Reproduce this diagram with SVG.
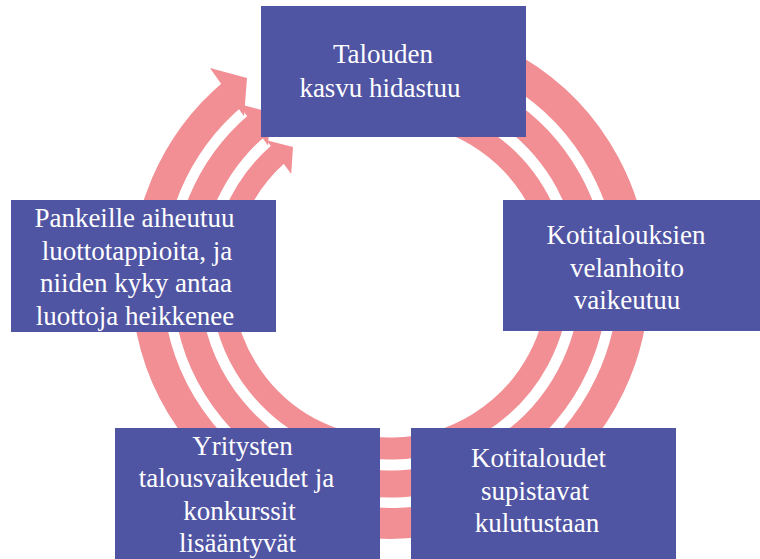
<svg xmlns="http://www.w3.org/2000/svg" width="760" height="559" viewBox="0 0 760 559">
<style>
.ring{fill:none;stroke:#F28F94;stroke-linecap:butt}
.head{fill:#F28F94}
.box{fill:#4F54A3}
.t{font-family:"Liberation Serif","Times New Roman",serif;font-size:27px;fill:#FFFFFF;text-anchor:middle}
</style>
<rect width="760" height="559" fill="#FFFFFF"/>
<g id="connectors">
<path class="ring" stroke-width="31" d="M279.5,63.0 A243.5,243.5 0 1 1 233.5,93.5"/>
<polygon class="head" points="209.95,68.1 247,78 244.05,116.3"/>
<path class="ring" stroke-width="27" d="M294.2,99.9 A204,204 0 1 1 257.5,124.9"/>
<polygon class="head" points="238.2,103.8 270.4,112.3 268.0,145.6"/>
<path class="ring" stroke-width="22" d="M326.9,123.8 A168.5,168.5 0 1 1 278.8,153.4"/>
<polygon class="head" points="266.6,140.3 293,147 291.2,174.1"/>
</g>
<g id="node-top">
<rect class="box" x="261" y="6" width="265" height="131"/>
<text class="t" x="383" y="63">Talouden</text>
<text class="t" x="380" y="97">kasvu hidastuu</text>
</g>
<g id="node-right">
<rect class="box" x="503" y="200" width="265" height="131"/>
<text class="t" x="626" y="244">Kotitalouksien</text>
<text class="t" x="627" y="276.5">velanhoito</text>
<text class="t" x="627" y="309">vaikeutuu</text>
</g>
<g id="node-bottom-right">
<rect class="box" x="411" y="428" width="265" height="131"/>
<text class="t" x="538.5" y="467">Kotitaloudet</text>
<text class="t" x="535" y="500">supistavat</text>
<text class="t" x="537" y="532">kulutustaan</text>
</g>
<g id="node-bottom-left">
<rect class="box" x="115" y="428" width="265" height="131"/>
<text class="t" x="242.5" y="455">Yritysten</text>
<text class="t" x="236.5" y="487">talousvaikeudet ja</text>
<text class="t" x="239.5" y="520">konkurssit</text>
<text class="t" x="237.5" y="552">lisääntyvät</text>
</g>
<g id="node-left">
<rect class="box" x="11" y="200" width="265" height="132"/>
<text class="t" x="134.5" y="227">Pankeille aiheutuu</text>
<text class="t" x="137" y="260">luottotappioita, ja</text>
<text class="t" x="136" y="292">niiden kyky antaa</text>
<text class="t" x="135" y="325">luottoja heikkenee</text>
</g>
</svg>
